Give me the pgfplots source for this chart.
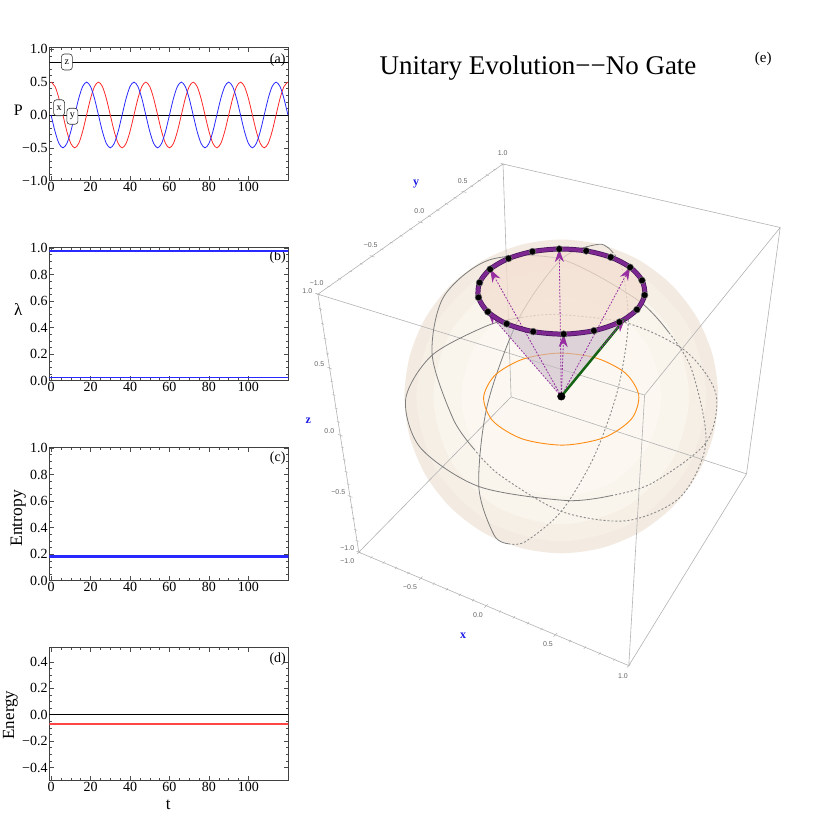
\documentclass[border=0pt]{standalone}
\usepackage{fontspec}
\setmainfont{Liberation Serif}
\newfontfamily\lsans{Liberation Sans}
\usepackage{pgfplots}
\usepackage{pgfplotstable}
\pgfplotsset{compat=1.18}
\usetikzlibrary{arrows.meta}
\definecolor{gbox}{RGB}{178,178,178}
\definecolor{gcirc}{RGB}{125,125,125}
\definecolor{sph1}{RGB}{243,235,225}
\definecolor{sph2}{RGB}{246,239,230}
\definecolor{sph3}{RGB}{249,244,236}
\definecolor{sph4}{RGB}{252,248,241}
\definecolor{orng}{RGB}{255,140,20}
\definecolor{purp}{RGB}{125,40,145}
\definecolor{purpd}{RGB}{70,20,90}
\definecolor{purpa}{RGB}{150,45,160}
\definecolor{dgreen}{RGB}{20,100,20}
\definecolor{lred}{RGB}{255,40,40}
\definecolor{ered}{RGB}{255,70,70}
\definecolor{lblue}{RGB}{40,40,255}
\definecolor{tlab}{RGB}{100,100,100}
\definecolor{axblue}{RGB}{30,30,230}
\definecolor{ringin}{RGB}{243,222,208}
\definecolor{conef}{RGB}{200,186,200}
\pgfplotstableread{
t r b
0 0.5 0
2 0.433 -0.25
4 0.25 -0.433
6 0 -0.5
8 -0.25 -0.433
10 -0.433 -0.25
12 -0.5 0
14 -0.433 0.25
16 -0.25 0.433
18 0 0.5
20 0.25 0.433
22 0.433 0.25
24 0.5 0
26 0.433 -0.25
28 0.25 -0.433
30 0 -0.5
32 -0.25 -0.433
34 -0.433 -0.25
36 -0.5 0
38 -0.433 0.25
40 -0.25 0.433
42 0 0.5
44 0.25 0.433
46 0.433 0.25
48 0.5 0
50 0.433 -0.25
52 0.25 -0.433
54 0 -0.5
56 -0.25 -0.433
58 -0.433 -0.25
60 -0.5 0
62 -0.433 0.25
64 -0.25 0.433
66 0 0.5
68 0.25 0.433
70 0.433 0.25
72 0.5 0
74 0.433 -0.25
76 0.25 -0.433
78 0 -0.5
80 -0.25 -0.433
82 -0.433 -0.25
84 -0.5 0
86 -0.433 0.25
88 -0.25 0.433
90 0 0.5
92 0.25 0.433
94 0.433 0.25
96 0.5 0
98 0.433 -0.25
100 0.25 -0.433
102 0 -0.5
104 -0.25 -0.433
106 -0.433 -0.25
108 -0.5 0
110 -0.433 0.25
112 -0.25 0.433
114 0 0.5
116 0.25 0.433
118 0.433 0.25
120 0.5 0
}\Pdata
\pgfplotsset{
  lp/.style={anchor=south west, scale only axis, width=239pt, height=133.4pt,
    xmin=-0.9, xmax=120.2, xtick={0,20,40,60,80,100}, xticklabels={0,20,40,60,80,100},
    minor x tick num=3, tick align=inside, major tick length=4.5pt, minor tick length=2.5pt,
    axis line style={black!75, line width=0.7pt}, tick style={black!70, line width=0.5pt},
    tick label style={font=\fontsize{14}{14}\selectfont},
    xticklabel style={inner sep=1pt}, yticklabel style={inner sep=1.5pt},
    clip=true},
  gsolid/.style={gcirc, line width=0.8pt, smooth},
  gdash/.style={gcirc!90, line width=0.9pt, dash pattern=on 2pt off 2pt, smooth},
  parr/.style={purpa, line width=0.8pt, dash pattern=on 1.8pt off 1.5pt, -{Stealth[length=13pt,width=9pt]}}
}
\tikzset{
  lbl3/.style={font=\lsans\fontsize{7}{8}\selectfont, text=tlab, inner sep=0pt},
  axl/.style={font=\bfseries\fontsize{12}{12}\selectfont, text=axblue, inner sep=0pt},
  callout/.style={draw=black!80, fill=white, rounded corners=3pt, line width=0.6pt, font=\fontsize{10}{10}\selectfont, minimum width=11pt, minimum height=16pt, inner sep=1pt}
}
\begin{document}
\begin{tikzpicture}
% ---------- background / Bloch sphere panel (pixel coordinates) ----------
\begin{axis}[at={(0pt,0pt)}, anchor=south west, scale only axis, width=830pt, height=830pt,
  xmin=0, xmax=830, ymin=0, ymax=830, y dir=reverse, hide axis, clip=false, unbounded coords=jump]
\addplot[draw=none, forget plot] coordinates {(0,0) (830,830)};
% sphere
\addplot[smooth cycle, draw=none, fill=sph1] coordinates {(718.2,396.4) (712.85,355.79) (697.2,317.95) (672.24,285.46) (639.75,260.5) (601.91,244.85) (561.3,239.5) (520.69,244.85) (482.85,260.5) (450.36,285.46) (425.4,317.95) (409.75,355.79) (404.4,396.4) (409.75,437.01) (425.4,474.85) (450.36,507.34) (482.85,532.3) (520.69,547.95) (561.3,553.3) (601.91,547.95) (639.75,532.3) (672.24,507.34) (697.2,474.85) (712.85,437.01)};
\addplot[smooth cycle, draw=none, fill=sph2] coordinates {(706.3,396.4) (686.87,323.9) (633.8,270.83) (561.3,251.4) (488.8,270.83) (435.73,323.9) (416.3,396.4) (435.73,468.9) (488.8,521.97) (561.3,541.4) (633.8,521.97) (686.87,468.9)};
\addplot[smooth cycle, draw=none, fill=sph3] coordinates {(689.3,396.4) (672.15,332.4) (625.3,285.55) (561.3,268.4) (497.3,285.55) (450.45,332.4) (433.3,396.4) (450.45,460.4) (497.3,507.25) (561.3,524.4) (625.3,507.25) (672.15,460.4)};
\addplot[smooth cycle, draw=none, fill=sph4] coordinates {(661.3,396.4) (647.9,346.4) (611.3,309.8) (561.3,296.4) (511.3,309.8) (474.7,346.4) (461.3,396.4) (474.7,446.4) (511.3,483) (561.3,496.4) (611.3,483) (647.9,446.4)};
% box
\addplot[gbox, line width=0.6pt] coordinates {(317.9,294.2) (503.0,164.0) (780.2,227.5) (644.6,395.1) (317.9,294.2) (358.8,552.2) (511.1,396.9) (746.5,473.9) (628.8,665.6) (358.8,552.2) (nan,nan) (503.0,164.0) (511.1,396.9) (nan,nan) (780.2,227.5) (746.5,473.9) (nan,nan) (644.6,395.1) (628.8,665.6)};
% ticks x edge
\addplot[only marks, mark=-, mark size=2.5pt, mark options={gbox, rotate=45.6, line width=0.5pt}] coordinates {(358.8,552.2) (420.7,578.3) (486.1,605.8) (555.4,634.9) (628.8,665.6)};
\addplot[only marks, mark=-, mark size=1.5pt, mark options={gbox, rotate=45.6, line width=0.5pt}] coordinates {(371.3,557.3) (383.7,562.5) (396.0,567.8) (408.4,573.0) (433.8,583.8) (446.9,589.3) (459.9,594.8) (473.0,600.3) (500.0,611.6) (513.8,617.4) (527.7,623.3) (541.5,629.1) (570.1,641.1) (584.8,647.6) (599.6,653.6) (614.3,659.8)};
% ticks y edge
\addplot[only marks, mark=-, mark size=2.5pt, mark options={gbox, rotate=-17.2, line width=0.5pt}] coordinates {(317.9,294.2) (372.2,256.3) (420.6,222.3) (463.9,191.8) (503.0,164.0)};
\addplot[only marks, mark=-, mark size=1.5pt, mark options={gbox, rotate=-17.2, line width=0.5pt}] coordinates {(328.8,286.5) (339.7,278.9) (350.5,271.4) (361.4,263.8) (381.9,249.5) (391.6,242.7) (401.2,235.9) (410.9,229.1) (429.3,216.2) (437.9,210.1) (446.6,204.0) (455.2,197.9) (471.7,186.2) (479.4,180.7) (487.2,175.1) (494.9,169.6)};
% ticks z edge
\addplot[only marks, mark=-, mark size=2.5pt, mark options={gbox, rotate=-22.8, line width=0.5pt}] coordinates {(358.8,552.2) (350.1,496.4) (340.4,435.2) (329.8,368.2) (317.9,294.2)};
\addplot[only marks, mark=-, mark size=1.5pt, mark options={gbox, rotate=-22.8, line width=0.5pt}] coordinates {(357.2,540.9) (355.4,529.8) (353.7,518.6) (351.9,507.5) (348.2,484.2) (346.2,471.9) (344.3,459.7) (342.3,447.4) (338.3,421.8) (336.2,408.4) (334.0,395.0) (331.9,381.6) (327.4,353.4) (325.1,338.7) (322.7,323.8) (320.4,309.0)};
% tick labels
\node[lbl3] at (axis cs:347.3,561) {−1.0};
\node[lbl3] at (axis cs:410,587) {−0.5};
\node[lbl3] at (axis cs:478,615) {0.0};
\node[lbl3] at (axis cs:548,644) {0.5};
\node[lbl3] at (axis cs:623,676) {1.0};
\node[lbl3] at (axis cs:316.7,283.3) {−1.0};
\node[lbl3] at (axis cs:370.7,245) {−0.5};
\node[lbl3] at (axis cs:419.3,210.7) {0.0};
\node[lbl3] at (axis cs:462.7,180.7) {0.5};
\node[lbl3] at (axis cs:502.7,152.7) {1.0};
\node[lbl3] at (axis cs:347.3,547.7) {−1.0};
\node[lbl3] at (axis cs:338.3,491.7) {−0.5};
\node[lbl3] at (axis cs:329.3,431) {0.0};
\node[lbl3] at (axis cs:319.3,364.3) {0.5};
\node[lbl3] at (axis cs:307.3,290.7) {1.0};
\node[axl] at (axis cs:463,636) {x};
\node[axl] at (axis cs:416,184) {y};
\node[axl] at (axis cs:308.3,421) {z};
% great circles
\addplot[gdash] coordinates {(611.2,495.6) (651.7,483.4) (705.9,442.7) (715.9,393.9) (685.7,351.2) (628.2,323.4) (557.5,314.5) (521.6,317.5)};
\addplot[gdash] coordinates {(473.7,448.7) (499.5,474.8) (561.3,511.4) (626.4,520.7) (680.1,497.3) (705.9,442.7) (691.5,369.1) (668.7,332.3)};
\addplot[gdash] coordinates {(508.4,543.7) (525.2,541.7) (561.3,511.4) (594.0,456.7) (617.7,390.0) (628.2,323.4) (622.4,270.0) (612.9,252.7)};
\addplot[gsolid] coordinates {(521.6,317.5) (487.6,325.5) (432.2,355.1) (405.7,398.9) (420.3,447.6) (478.8,486.5) (566.1,500.5) (611.2,495.6)};
\addplot[gsolid] coordinates {(668.7,332.3) (637.4,299.8) (561.3,259.3) (489.7,259.8) (443.8,296.6) (432.2,355.1) (453.2,419.0) (473.7,448.7)};
\addplot[gsolid] coordinates {(612.9,252.7) (599.1,244.2) (561.3,259.3) (518.9,318.4) (487.4,404.8) (478.8,486.5) (494.2,535.3) (508.4,543.7)};
% orange projection circle
\addplot[smooth cycle, orng, line width=0.9pt] coordinates {(631.5,418.9) (638.7,395.2) (625.4,373.1) (596.4,358.1) (559.3,353.1) (522.7,359.2) (495.0,375.2) (483.6,397.7) (493.1,421.2) (522.3,438.9) (563.5,445.1) (604.1,437.6)};
% ring interior and cone
\addplot[smooth cycle, draw=none, fill=ringin, fill opacity=0.75] coordinates {(636.9,309.6) (644.6,295.1) (642.0,280.4) (630.1,267.3) (610.7,257.2) (586.2,250.9) (559.2,249.0) (532.4,251.6) (508.5,258.5) (490.1,269.2) (479.6,282.6) (478.5,297.4) (487.8,311.8) (506.7,323.8) (533.2,331.6) (563.7,334.1) (593.9,330.7) (619.4,322.1)};
\addplot[draw=none, fill=conef, fill opacity=0.6] coordinates {(561.3,396.4) (487.8,311.8) (506.7,323.8) (533.2,331.6) (563.7,334.1) (593.9,330.7) (619.4,322.1) (624.7,319.3)} -- cycle;
% dashed arrows
\addplot[parr] coordinates {(561.3,396.4) (630.1,267.3)};
\addplot[parr] coordinates {(561.3,396.4) (559.2,249.0)};
\addplot[parr] coordinates {(561.3,396.4) (490.1,269.2)};
\addplot[parr] coordinates {(561.3,396.4) (487.8,311.8)};
\addplot[parr] coordinates {(561.3,396.4) (563.7,334.1)};
% ring
\addplot[smooth cycle, purpd, line width=5pt] coordinates {(636.9,309.6) (644.6,295.1) (642.0,280.4) (630.1,267.3) (610.7,257.2) (586.2,250.9) (559.2,249.0) (532.4,251.6) (508.5,258.5) (490.1,269.2) (479.6,282.6) (478.5,297.4) (487.8,311.8) (506.7,323.8) (533.2,331.6) (563.7,334.1) (593.9,330.7) (619.4,322.1)};
\addplot[smooth cycle, purp, line width=3.6pt] coordinates {(636.9,309.6) (644.6,295.1) (642.0,280.4) (630.1,267.3) (610.7,257.2) (586.2,250.9) (559.2,249.0) (532.4,251.6) (508.5,258.5) (490.1,269.2) (479.6,282.6) (478.5,297.4) (487.8,311.8) (506.7,323.8) (533.2,331.6) (563.7,334.1) (593.9,330.7) (619.4,322.1)};
\addplot[only marks, mark=*, mark size=3.4pt, mark options={fill=black, draw=black!55, line width=0.5pt}] coordinates {(636.9,309.6) (644.6,295.1) (642.0,280.4) (630.1,267.3) (610.7,257.2) (586.2,250.9) (559.2,249.0) (532.4,251.6) (508.5,258.5) (490.1,269.2) (479.6,282.6) (478.5,297.4) (487.8,311.8) (506.7,323.8) (533.2,331.6) (563.7,334.1) (593.9,330.7) (619.4,322.1)};
% state vector
\addplot[dgreen, line width=2.5pt] coordinates {(561.3,396.4) (624.7,319.3)};
\addplot[parr] coordinates {(600,349.3) (624.7,319.3)};
\addplot[only marks, mark=*, mark size=3.8pt, mark options={fill=black, draw=black}] coordinates {(561.3,396.4)};
% titles
\node[font=\fontsize{27}{30}\selectfont, inner sep=0pt] at (axis cs:538,68) {Unitary Evolution−−No Gate};
\node[font=\fontsize{15}{16}\selectfont, inner sep=0pt] at (axis cs:763.3,59.3) {(e)};
% left panel labels
\node[font=\fontsize{16}{16}\selectfont, inner sep=0pt] at (axis cs:18.3,110) {P};
\node[font=\fontsize{17}{17}\selectfont, inner sep=0pt] at (axis cs:18.3,310) {λ};
\node[font=\fontsize{17.5}{17.5}\selectfont, inner sep=0pt, rotate=90] at (axis cs:18.3,518.3) {Entropy};
\node[font=\fontsize{17}{17}\selectfont, inner sep=0pt, rotate=90] at (axis cs:10.5,715) {Energy};
\node[font=\fontsize{17}{17}\selectfont, inner sep=0pt] at (axis cs:168.3,805) {t};
\node[font=\fontsize{14}{14}\selectfont, inner sep=0pt] at (axis cs:277.7,60) {(a)};
\node[font=\fontsize{14}{14}\selectfont, inner sep=0pt] at (axis cs:277.7,256.7) {(b)};
\node[font=\fontsize{14}{14}\selectfont, inner sep=0pt] at (axis cs:277.7,458.3) {(c)};
\node[font=\fontsize{14}{14}\selectfont, inner sep=0pt] at (axis cs:277.7,659.3) {(d)};
\end{axis}
% ---------- (a) ----------
\begin{axis}[lp, at={(49.3pt,649.3pt)}, ymin=-1, ymax=1.03, ytick={-1,-0.5,0,0.5,1},
  yticklabels={−1.0,−0.5,0.0,0.5,1.0}, minor y tick num=4]
\addplot[black, line width=0.7pt] coordinates {(-1,0.8) (121,0.8)};
\addplot[black, line width=0.7pt] coordinates {(-1,0) (121,0)};
\addplot[lred, line width=0.8pt, smooth] table[x=t, y=r] {\Pdata};
\addplot[lblue, line width=0.8pt, smooth] table[x=t, y=b] {\Pdata};
\node[callout] at (axis cs:8,0.806) {z};
\node[callout] at (axis cs:4.05,0.11) {x};
\node[callout] at (axis cs:10.8,-0.02) {y};
\end{axis}
% ---------- (b) ----------
\begin{axis}[lp, at={(49.3pt,449.3pt)}, ymin=0, ymax=1.005, ytick={0,0.2,0.4,0.6,0.8,1},
  yticklabels={0.0,0.2,0.4,0.6,0.8,1.0}, minor y tick num=3]
\addplot[lblue, line width=1.6pt] coordinates {(-1,0.975) (121,0.975)};
\addplot[lblue, line width=1.6pt] coordinates {(-1,0.025) (121,0.025)};
\end{axis}
% ---------- (c) ----------
\begin{axis}[lp, at={(49.3pt,249.3pt)}, ymin=0, ymax=1.005, ytick={0,0.2,0.4,0.6,0.8,1},
  yticklabels={0.0,0.2,0.4,0.6,0.8,1.0}, minor y tick num=3]
\addplot[lblue, line width=3pt] coordinates {(-1,0.18) (121,0.18)};
\end{axis}
% ---------- (d) ----------
\begin{axis}[lp, at={(49.3pt,49.3pt)}, ymin=-0.5, ymax=0.51, ytick={-0.4,-0.2,0,0.2,0.4},
  yticklabels={−0.4,−0.2,0.0,0.2,0.4}, minor y tick num=3]
\addplot[black, line width=0.7pt] coordinates {(-1,0) (121,0)};
\addplot[ered, line width=2pt] coordinates {(-1,-0.073) (121,-0.073)};
\end{axis}
\end{tikzpicture}
\end{document}
